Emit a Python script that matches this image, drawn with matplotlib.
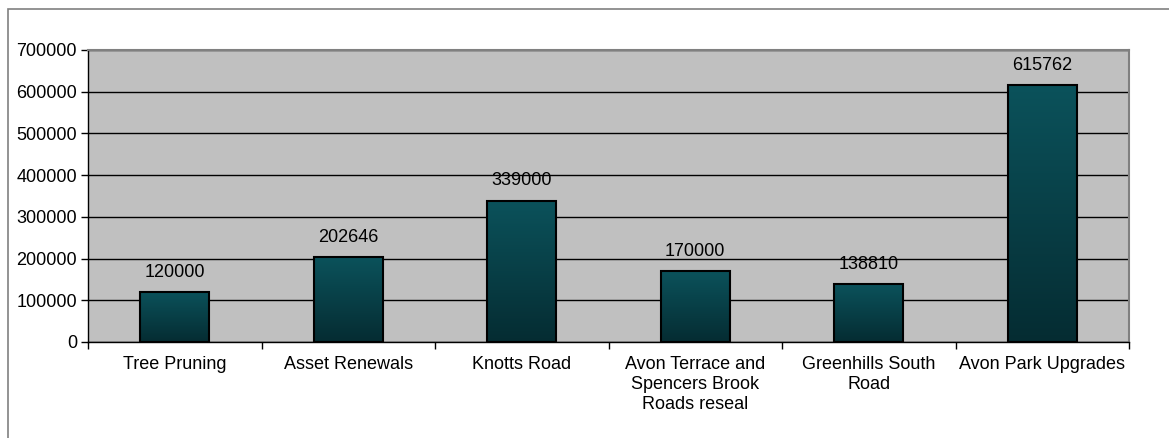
import numpy as np
import matplotlib.pyplot as plt
from matplotlib.colors import LinearSegmentedColormap
from matplotlib.patches import Rectangle

categories = ['Tree Pruning', 'Asset Renewals', 'Knotts Road',
              'Avon Terrace and\nSpencers Brook\nRoads reseal',
              'Greenhills South\nRoad', 'Avon Park Upgrades']
values = [120000, 202646, 339000, 170000, 138810, 615762]
y_ticks = [0, 100000, 200000, 300000, 400000, 500000, 600000, 700000]

plt.rcParams['font.family'] = ['Liberation Sans', 'DejaVu Sans']
FS = 13

fig = plt.figure(figsize=(11.69, 4.38), dpi=100)
ax = fig.add_axes([88 / 1169, 1 - 342 / 438, (1129 - 88) / 1169, (342 - 50) / 438])
ax.set_facecolor('#c0c0c0')

# outer chart border (only left and top fall inside the image)
fig.add_artist(Rectangle((8 / 1169, -0.1), 1.2, 1.1 - 9 / 438,
                         transform=fig.transFigure, fill=False,
                         edgecolor='#808080', linewidth=1.2))

x = np.arange(len(categories))
bars = ax.bar(x, values, width=0.40, facecolor='none', edgecolor='black',
              linewidth=1.5, zorder=4)

cmap = LinearSegmentedColormap.from_list('teal', ['#052c32', '#0b525b'])
grad = np.linspace(0, 1, 256).reshape(-1, 1)
for b in bars:
    ax.imshow(grad, cmap=cmap, origin='lower', aspect='auto', zorder=3,
              extent=[b.get_x(), b.get_x() + b.get_width(), 0, b.get_height()])
    ax.annotate(f'{int(b.get_height())}', (b.get_x() + b.get_width() / 2, b.get_height()),
                xytext=(0, 8), textcoords='offset points', ha='center', va='bottom',
                fontsize=FS, color='black', zorder=5)

ax.set_xlim(-0.5, len(categories) - 0.5)
ax.set_ylim(0, 700000)
ax.set_yticks(y_ticks)
ax.set_yticklabels([str(v) for v in y_ticks], fontsize=FS)
ax.yaxis.grid(True, color='black', linewidth=1.0, zorder=1)
ax.set_axisbelow(True)

ax.set_xticks(x)
ax.set_xticklabels(categories, fontsize=FS, linespacing=1.25)
ax.tick_params(axis='x', which='major', length=0, pad=10)
ax.set_xticks(np.arange(len(categories) + 1) - 0.5, minor=True)
ax.tick_params(axis='x', which='minor', length=5, width=1, color='black')
ax.tick_params(axis='y', length=5, width=1, pad=3)

for s in ['top', 'right']:
    ax.spines[s].set_color('#808080')
    ax.spines[s].set_linewidth(1.5)
for s in ['left', 'bottom']:
    ax.spines[s].set_color('black')
    ax.spines[s].set_linewidth(1.0)

fig.savefig('out.png', dpi=100)
